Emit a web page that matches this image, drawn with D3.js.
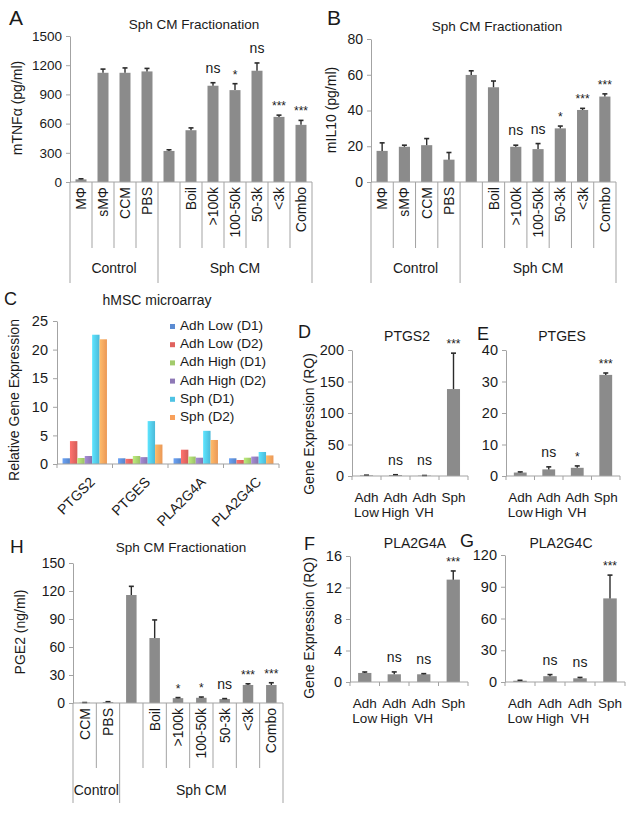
<!DOCTYPE html>
<html><head><meta charset="utf-8">
<script src="https://cdn.jsdelivr.net/npm/d3@7"></script>
<style>
body{margin:0;background:#fff}
svg{display:block}
text{font-family:"Liberation Sans",Arial,Helvetica,sans-serif;fill:#1a1a1a}
</style>
</head><body>
<svg id="fig" width="635" height="816"></svg>
<script>
// ---------------- DATA ----------------
const fracCatsAB = ["MΦ","sMΦ","CCM","PBS","","Boil",">100k","100-50k","50-3k","<3k","Combo"];
const fracGroupsAB = [["Control",0,4],["Sph CM",4,11]];

const tnfValues = [27,1122,1122,1136,319,532,989,944,1143,669,587];
const tnfErrors = [6,38,50,31,12,24,31,66,80,18,46];
const tnfSig    = ["","","","","","","ns","*","ns","***","***"];
const tnfTicks  = [0,300,600,900,1200,1500];

const il10Values = [17.4,19.7,20.6,12.5,59.9,53,19.7,18.4,30,40.3,47.8];
const il10Errors = [4.5,0.9,3.7,4.0,2.3,3.5,0.9,3.1,1.3,0.9,1.5];
const il10Sig    = ["","","","","","","ns","ns","*","***","***"];
const il10Ticks  = [0,20,40,60,80];

const genes = ["PTGS2","PTGES","PLA2G4A","PLA2G4C"];
const arraySeries = ["Adh Low (D1)","Adh Low (D2)","Adh High (D1)","Adh High (D2)","Sph (D1)","Sph (D2)"];
const adhLowD1  = [1.0,1.0,1.0,1.0];
const adhLowD2  = [4.0,0.9,2.5,0.7];
const adhHighD1 = [1.05,1.4,1.3,1.1];
const adhHighD2 = [1.4,1.2,1.1,1.3];
const sphD1     = [22.6,7.5,5.8,2.1];
const sphD2     = [21.8,3.4,4.2,1.5];
const arrayTicks = [0,5,10,15,20,25];

const qpcrCats = [["Adh","Low"],["Adh","High"],["Adh","VH"],["Sph",""]];
const ptgs2Values = [1.0,1.5,0.6,138];
const ptgs2Errors = [0.3,0.5,0.2,57];
const ptgs2Sig    = ["","ns","ns","***"];
const ptgs2Ticks  = [0,50,100,150,200];

const ptgesValues = [1.1,2.1,2.6,32.1];
const ptgesErrors = [0.2,0.8,0.6,0.6];
const ptgesSig    = ["","ns","*","***"];
const ptgesTicks  = [0,10,20,30,40];

const pla2g4aValues = [1.15,0.98,0.98,13.0];
const pla2g4aErrors = [0.12,0.3,0.08,1.1];
const pla2g4aSig    = ["","ns","ns","***"];
const pla2g4aTicks  = [0,4,8,12,16];

const pla2g4cValues = [1.2,5.5,3.5,79];
const pla2g4cErrors = [0.4,1.5,0.8,22];
const pla2g4cSig    = ["","ns","ns","***"];
const pla2g4cTicks  = [0,30,60,90,120];

const pgeCats = ["CCM","PBS","","Boil",">100k","100-50k","50-3k","<3k","Combo"];
const pgeGroups = [["Control",0,2],["Sph CM",2,9]];
const pgeValues = [0.3,1.0,115.7,69.6,5.2,5.6,4.3,19.3,19.3];
const pgeErrors = [0.2,0.4,9.3,19.4,0.6,0.8,0.4,1.3,2.4];
const pgeSig    = ["","","","","*","*","ns","***","***"];
const pgeTicks  = [0,30,60,90,120,150];

// ---------------- DRAWING ----------------
const svg = d3.select("#fig");
const BAR = "#8b8b8b", AXIS = "#a3a3a3", ERR = "#2b2b2b";

function styleAxis(g, fs){
  g.select(".domain").attr("stroke",AXIS).attr("stroke-width",1);
  g.selectAll(".tick line").attr("stroke",AXIS);
  g.selectAll(".tick text").attr("font-size",fs).attr("fill","#1a1a1a")
   .attr("font-family",'"Liberation Sans",Arial,sans-serif');
}

function label(x,y,t,fs,anchor,extra){
  const e = svg.append("text").attr("x",x).attr("y",y).attr("font-size",fs)
    .attr("text-anchor",anchor||"middle").text(t);
  if(extra) extra(e);
  return e;
}

function barPanel(o){
  const g = svg.append("g");
  const n = o.values.length;
  const x = d3.scaleBand().domain(d3.range(n)).range([o.x0,o.x1]);
  const y = d3.scaleLinear().domain([0,o.max]).range([o.yZero,o.yTop]);
  const bw = x.bandwidth()*o.barFrac;
  const ya = g.append("g").attr("transform",`translate(${o.x0},0)`)
    .call(d3.axisLeft(y).tickValues(o.ticks).tickSize(4).tickSizeOuter(0).tickPadding(4).tickFormat(d3.format("d")));
  styleAxis(ya,o.tickFs||14);
  g.selectAll("rect.bar").data(o.values).join("rect")
    .attr("x",(d,i)=>x(i)+(x.bandwidth()-bw)/2)
    .attr("y",d=>y(d)).attr("width",bw).attr("height",d=>o.yZero-y(d))
    .attr("fill",BAR);
  o.values.forEach((v,i)=>{
    const cx = x(i)+x.bandwidth()/2, top = y(v+o.errors[i]);
    g.append("line").attr("x1",cx).attr("x2",cx).attr("y1",y(v)).attr("y2",top).attr("stroke",ERR).attr("stroke-width",1.4);
    g.append("line").attr("x1",cx-2.5).attr("x2",cx+2.5).attr("y1",top).attr("y2",top).attr("stroke",ERR).attr("stroke-width",1.6);
    const s = o.sig[i];
    if(s){
      if(s==="ns") label(cx,top-10,s,14);
      else label(cx,top-5,s,12);
    }
  });
  g.append("line").attr("x1",o.x0).attr("x2",o.x1).attr("y1",o.yZero).attr("y2",o.yZero).attr("stroke",AXIS);
  return {x,y,g};
}

function fracXAxis(p,o){
  const {x,g} = p;
  const n = o.cats.length;
  const groupEdges = new Set();
  o.groups.forEach(gr=>{groupEdges.add(gr[1]);groupEdges.add(gr[2]);});
  for(let i=0;i<=n;i++){
    const xx = i<n ? x(i) : o.x1;
    g.append("line").attr("x1",xx).attr("x2",xx).attr("y1",o.yZero)
      .attr("y2",groupEdges.has(i)?o.longY:o.shortY).attr("stroke",AXIS);
  }
  o.cats.forEach((c,i)=>{
    if(!c) return;
    const cx = x(i)+x.bandwidth()/2;
    g.append("text").attr("transform",`translate(${cx},${o.yZero+5}) rotate(-90)`)
      .attr("text-anchor","end").attr("dy","0.36em").attr("font-size",14).text(c);
  });
  o.groups.forEach(gr=>{
    const a = x(gr[1]), b = gr[2]<n ? x(gr[2]) : o.x1;
    label((a+b)/2,o.groupY,gr[0],14);
  });
}

function qpcrXAxis(p,o){
  const {x,g} = p;
  const n = o.cats.length;
  for(let i=0;i<=n;i++){
    const xx = i<n ? x(i) : o.x1;
    g.append("line").attr("x1",xx).attr("x2",xx).attr("y1",o.yZero).attr("y2",o.yZero+4).attr("stroke",AXIS);
  }
  o.cats.forEach((c,i)=>{
    const cx = x(i)+x.bandwidth()/2;
    label(cx,o.yZero+26,c[0],13.5);
    if(c[1]) label(cx,o.yZero+41,c[1],13.5);
  });
}

// Panel letters
[["A",9,25,21],["B",327,25,21],["C",4,305,18],["D",298,338,18],["E",477,340,18],
 ["H",10,553,19],["F",304,550,18],["G",460,547,18]].forEach(l=>label(l[1],l[2],l[0],l[3],"start"));

// ---- Panel A ----
const oA = {values:tnfValues,errors:tnfErrors,sig:tnfSig,ticks:tnfTicks,max:1500,
  x0:70,x1:312,yZero:182,yTop:36,barFrac:0.5,tickFs:13.5,
  cats:fracCatsAB,groups:fracGroupsAB,longY:283,shortY:248,groupY:273};
const pA = barPanel(oA); fracXAxis(pA,oA);
label(194,29,"Sph CM Fractionation",13.5);
label(0,0,"mTNFα (pg/ml)",14,"middle",e=>e.attr("transform","translate(22,108) rotate(-90)"));

// ---- Panel B ----
const oB = {values:il10Values,errors:il10Errors,sig:il10Sig,ticks:il10Ticks,max:80,
  x0:371,x1:616,yZero:182,yTop:39,barFrac:0.5,tickFs:14,
  cats:fracCatsAB,groups:fracGroupsAB,longY:283,shortY:248,groupY:273};
const pB = barPanel(oB); fracXAxis(pB,oB);
label(497,31,"Sph CM Fractionation",13.5);
label(0,0,"mIL10 (pg/ml)",14,"middle",e=>e.attr("transform","translate(336,110) rotate(-90)"));

// ---- Panel C ----
(function(){
  const colors = ["#5b8bd2","#e0625e","#a2cb6b","#8e78b6","#4fc3e4","#f8a05b"];
  const series = [adhLowD1,adhLowD2,adhHighD1,adhHighD2,sphD1,sphD2];
  const defs = svg.append("defs");
  colors.forEach((c,i)=>{
    const lg = defs.append("linearGradient").attr("id","cg"+i).attr("x1","0").attr("x2","1").attr("y1","0").attr("y2","0");
    lg.append("stop").attr("offset","0").attr("stop-color",d3.color(c).brighter(0.45));
    lg.append("stop").attr("offset","1").attr("stop-color",d3.color(c).darker(0.15));
  });
  const x0=57,x1=279,yZero=464,yTop=321;
  const g = svg.append("g");
  const x = d3.scaleBand().domain(genes).range([x0,x1]).paddingInner(0.2).paddingOuter(0.1);
  const xs = d3.scaleBand().domain(d3.range(series.length)).range([0,x.bandwidth()]);
  const y = d3.scaleLinear().domain([0,25]).range([yZero,yTop]);
  const ya = g.append("g").attr("transform",`translate(${x0},0)`)
    .call(d3.axisLeft(y).tickValues(arrayTicks).tickSize(4).tickSizeOuter(0).tickPadding(5));
  styleAxis(ya,14.5);
  genes.forEach((gn,gi)=>{
    series.forEach((s,si)=>{
      g.append("rect").attr("x",x(gn)+xs(si)).attr("width",xs.bandwidth())
        .attr("y",y(s[gi])).attr("height",yZero-y(s[gi])).attr("fill",`url(#cg${si})`);
    });
  });
  g.append("line").attr("x1",x0).attr("x2",x1).attr("y1",yZero).attr("y2",yZero).attr("stroke",AXIS);
  const step = (x1-x0)/genes.length;
  for(let i=0;i<=genes.length;i++){
    g.append("line").attr("x1",x0+i*step).attr("x2",x0+i*step).attr("y1",yZero).attr("y2",yZero+4).attr("stroke",AXIS);
  }
  genes.forEach(gn=>{
    const cx = x(gn)+x.bandwidth()/2;
    g.append("text").attr("transform",`translate(${cx+4},${yZero+12}) rotate(-45)`)
      .attr("text-anchor","end").attr("dy","0.7em").attr("font-size",14).text(gn);
  });
  arraySeries.forEach((s,i)=>{
    const ly = 325+i*18.2;
    g.append("rect").attr("x",170).attr("y",ly-1).attr("width",5).attr("height",5).attr("fill",colors[i]);
    g.append("text").attr("x",180).attr("y",ly+5).attr("font-size",13.6).text(s);
  });
  label(157,305,"hMSC microarray",14);
  label(0,0,"Relative Gene Expression",14,"middle",e=>e.attr("transform","translate(19,400) rotate(-90)"));
})();

// ---- Panel D ----
const oD = {values:ptgs2Values,errors:ptgs2Errors,sig:ptgs2Sig,ticks:ptgs2Ticks,max:200,
  x0:352,x1:468,yZero:476,yTop:350,barFrac:0.45,tickFs:14.5,cats:qpcrCats};
const pD = barPanel(oD); qpcrXAxis(pD,oD);
label(407,341,"PTGS2",14);
label(0,0,"Gene Expression (RQ)",14,"middle",e=>e.attr("transform","translate(314,424) rotate(-90)"));

// ---- Panel E ----
const oE = {values:ptgesValues,errors:ptgesErrors,sig:ptgesSig,ticks:ptgesTicks,max:40,
  x0:506,x1:620,yZero:476,yTop:350,barFrac:0.45,tickFs:14.5,cats:qpcrCats};
const pE = barPanel(oE); qpcrXAxis(pE,oE);
label(562,341,"PTGES",14);

// ---- Panel H ----
const oH = {values:pgeValues,errors:pgeErrors,sig:pgeSig,ticks:pgeTicks,max:150,
  x0:73,x1:283,yZero:703,yTop:563,barFrac:0.45,tickFs:14,
  cats:pgeCats,groups:pgeGroups,longY:803,shortY:768,groupY:795};
const pH = barPanel(oH); fracXAxis(pH,oH);
label(181,552,"Sph CM Fractionation",13.5);
label(0,0,"PGE2 (ng/ml)",14,"middle",e=>e.attr("transform","translate(25,632) rotate(-90)"));

// ---- Panel F ----
const oF = {values:pla2g4aValues,errors:pla2g4aErrors,sig:pla2g4aSig,ticks:pla2g4aTicks,max:16,
  x0:350,x1:468,yZero:682,yTop:556,barFrac:0.45,tickFs:14.5,cats:qpcrCats};
const pF = barPanel(oF); qpcrXAxis(pF,oF);
label(415,548,"PLA2G4A",14);
label(0,0,"Gene Expression (RQ)",14,"middle",e=>e.attr("transform","translate(314,628) rotate(-90)"));

// ---- Panel G ----
const oG = {values:pla2g4cValues,errors:pla2g4cErrors,sig:pla2g4cSig,ticks:pla2g4cTicks,max:120,
  x0:505,x1:625,yZero:682,yTop:555,barFrac:0.45,tickFs:14.5,cats:qpcrCats};
const pG = barPanel(oG); qpcrXAxis(pG,oG);
label(561,548,"PLA2G4C",14);
</script>
</body></html>
